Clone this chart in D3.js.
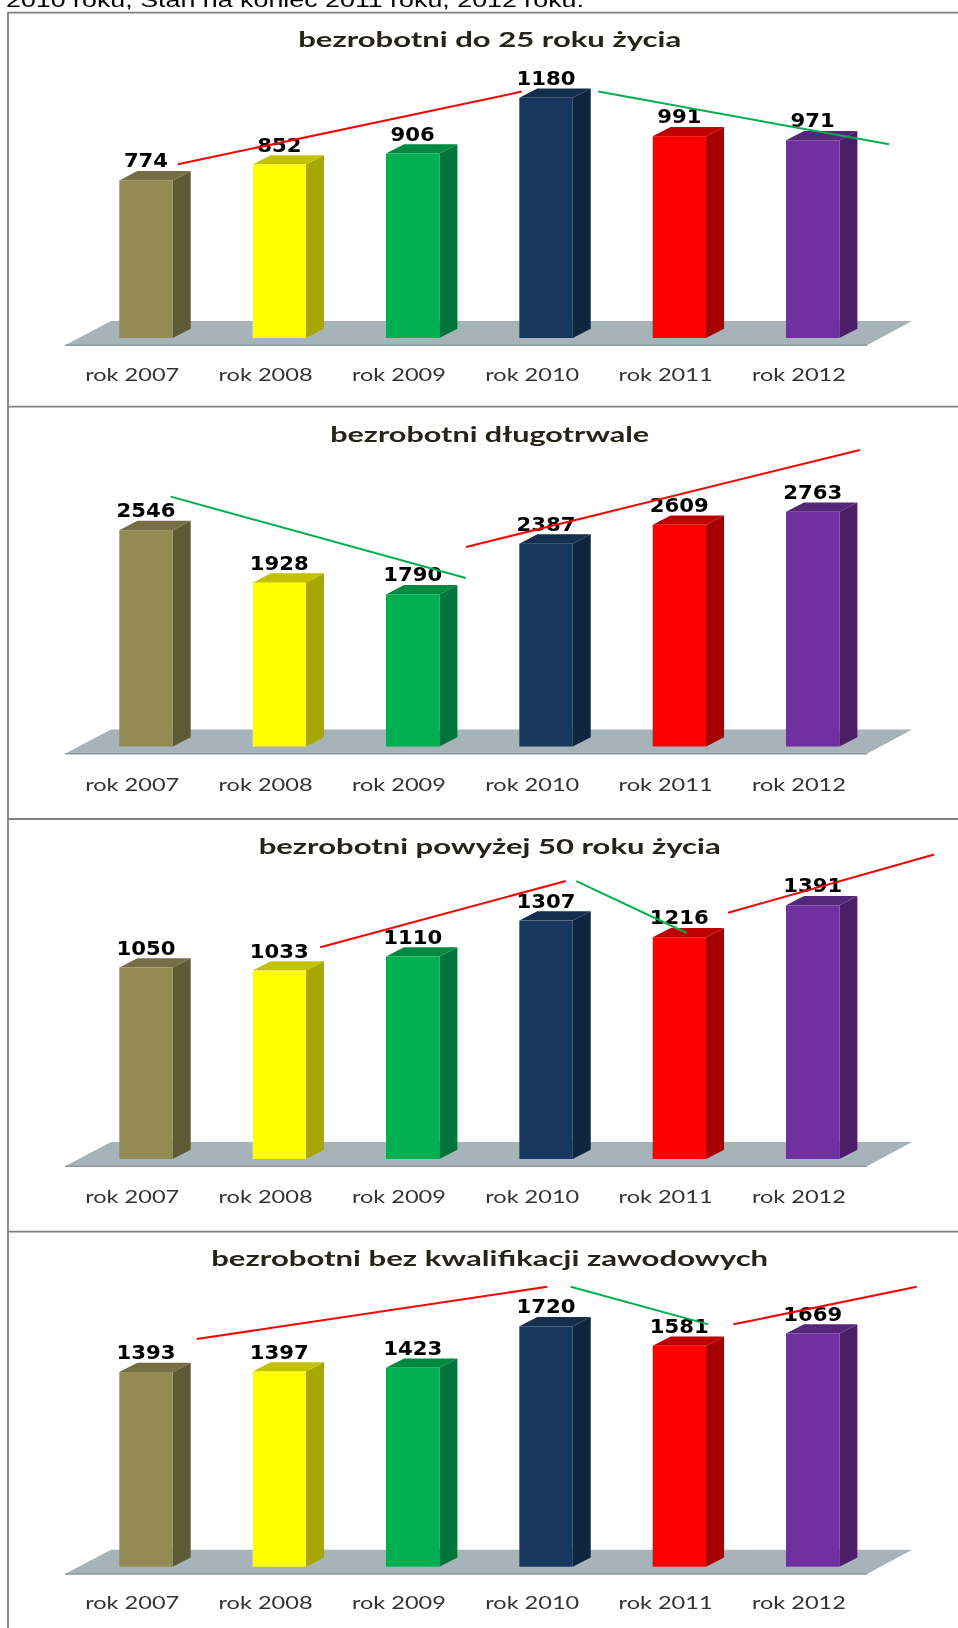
<!DOCTYPE html>
<html lang="pl">
<head>
<meta charset="utf-8">
<title>bezrobotni</title>
<script src="https://cdn.jsdelivr.net/npm/d3@7"></script>
<style>
  html, body { margin: 0; padding: 0; background: #fff; overflow: hidden; }
  svg { display: block; filter: blur(0.35px); }
</style>
</head>
<body>
<script>
var categories = ["rok 2007", "rok 2008", "rok 2009", "rok 2010", "rok 2011", "rok 2012"];

var titles = [
  "bezrobotni do 25 roku życia",
  "bezrobotni długotrwale",
  "bezrobotni powyżej 50 roku życia",
  "bezrobotni bez kwalifikacji zawodowych"
];

var youngValues = [774, 852, 906, 1180, 991, 971];
var longTermValues = [2546, 1928, 1790, 2387, 2609, 2763];
var olderValues = [1050, 1033, 1110, 1307, 1216, 1391];
var unskilledValues = [1393, 1397, 1423, 1720, 1581, 1669];

// trend strokes: [category position, value] at each end
var youngTrends = [
  {kind: "up", ends: [[0.239, 853], [2.818, 1210]]},
  {kind: "down", ends: [[3.392, 1210], [5.573, 951]]}
];
var longTermTrends = [
  {kind: "down", ends: [[0.185, 2940], [2.398, 1983]]},
  {kind: "up", ends: [[2.40, 2348], [5.353, 3489]]}
];
var olderTrends = [
  {kind: "up", ends: [[1.307, 1161], [3.148, 1524]]},
  {kind: "down", ends: [[3.227, 1524], [4.055, 1239]]},
  {kind: "up", ends: [[4.365, 1350], [5.91, 1670]]}
];
var unskilledTrends = [
  {kind: "up", ends: [[0.38, 1629], [3.008, 2003]]},
  {kind: "down", ends: [[3.185, 2003], [4.217, 1734]]},
  {kind: "up", ends: [[4.405, 1734], [5.78, 2003]]}
];

var frontColors = ["#948a54", "#ffff00", "#00b050", "#17375e", "#ff0000", "#7030a0"];
var sideColors = ["#5f5a36", "#a8a600", "#00743a", "#10253f", "#a50000", "#4a1f68"];
var topColors = ["#766e44", "#c4c200", "#008a40", "#142e4e", "#c00000", "#562678"];
var trendColors = {up: "#ff0000", down: "#00b050"};

var width = 958;
var height = 1628;
var barWidth = 53.4;
var depthX = 18;
var depthY = 9.3;

var panels = [
  {title: titles[0], values: youngValues, trends: youngTrends, top: 12.7, base: 338, maxHeight: 240.3, titleY: 46.5, titleWidth: 383, labelY: 380.5},
  {title: titles[1], values: longTermValues, trends: longTermTrends, top: 406.7, base: 746.5, maxHeight: 234.8, titleY: 441.7, titleWidth: 319, labelY: 790.8},
  {title: titles[2], values: olderValues, trends: olderTrends, top: 819, base: 1159, maxHeight: 253.7, titleY: 854, titleWidth: 462, labelY: 1203},
  {title: titles[3], values: unskilledValues, trends: unskilledTrends, top: 1231.7, base: 1566.7, maxHeight: 240.4, titleY: 1266.3, titleWidth: 557, labelY: 1609}
];

var svg = d3.select("body").append("svg")
            .attr("width", width)
            .attr("height", height);

svg.append("text")
   .attr("x", 6)
   .attr("y", 6.5)
   .attr("font-family", "'Liberation Sans', Arial, sans-serif")
   .attr("font-size", 21)
   .attr("fill", "#000")
   .attr("textLength", 578)
   .attr("lengthAdjust", "spacingAndGlyphs")
   .text("2010 roku, Stan na koniec 2011 roku, 2012 roku.");

// shared category position scale, fractional positions are used for trends
var x = d3.scaleLinear().domain([0, categories.length - 1]).range([146, 812.7]);
var line = d3.line();

panels.forEach(function(panel) {
  var y = d3.scaleLinear()
            .domain([0, d3.max(panel.values)])
            .range([panel.base, panel.base - panel.maxHeight]);

  var g = svg.append("g");

  g.append("line")
   .attr("x1", 8).attr("x2", width)
   .attr("y1", panel.top).attr("y2", panel.top)
   .attr("stroke", "#808080")
   .attr("stroke-width", 1.8);

  g.append("text")
   .attr("x", 489.7)
   .attr("y", panel.titleY)
   .attr("text-anchor", "middle")
   .attr("font-family", "Lato, sans-serif")
   .attr("font-weight", 700)
   .attr("font-size", 20)
   .attr("fill", "#26241a")
   .attr("textLength", panel.titleWidth)
   .attr("lengthAdjust", "spacingAndGlyphs")
   .text(panel.title);

  // floor
  g.append("polygon")
   .attr("points", [
     [65, panel.base + 7.3], [111, panel.base - 17],
     [912, panel.base - 17], [867, panel.base + 7.3]
   ].join(" "))
   .attr("fill", "#a6b4b9");
  g.append("line")
   .attr("x1", 65).attr("x2", 867)
   .attr("y1", panel.base + 7.3).attr("y2", panel.base + 7.3)
   .attr("stroke", "#8b989c")
   .attr("stroke-width", 1.5);

  var bars = g.selectAll("g.bar")
              .data(panel.values)
              .enter().append("g")
              .attr("class", "bar");

  bars.append("polygon")
      .attr("points", function(d, i) {
        var right = x(i) + barWidth / 2;
        return [[right, y(d)], [right + depthX, y(d) - depthY],
                [right + depthX, y(0) - depthY], [right, y(0)]].join(" ");
      })
      .attr("fill", function(d, i) { return sideColors[i]; });

  bars.append("polygon")
      .attr("points", function(d, i) {
        var left = x(i) - barWidth / 2;
        var right = x(i) + barWidth / 2;
        return [[left, y(d)], [left + depthX, y(d) - depthY],
                [right + depthX, y(d) - depthY], [right, y(d)]].join(" ");
      })
      .attr("fill", function(d, i) { return topColors[i]; });

  bars.append("rect")
      .attr("x", function(d, i) { return x(i) - barWidth / 2; })
      .attr("y", function(d) { return y(d); })
      .attr("width", barWidth)
      .attr("height", function(d) { return y(0) - y(d); })
      .attr("fill", function(d, i) { return frontColors[i]; });

  bars.append("text")
      .attr("x", function(d, i) { return x(i); })
      .attr("y", function(d) { return y(d) - depthY - 3.6; })
      .attr("text-anchor", "middle")
      .attr("font-family", "'DejaVu Sans', sans-serif")
      .attr("font-weight", 700)
      .attr("font-size", 19)
      .attr("fill", "#000")
      .attr("textLength", function(d) { return String(d).length * 14.75; })
      .attr("lengthAdjust", "spacingAndGlyphs")
      .text(function(d) { return d; });

  g.selectAll("path.trend")
   .data(panel.trends)
   .enter().append("path")
   .attr("class", "trend")
   .attr("d", function(d) {
     return line(d.ends.map(function(e) { return [x(e[0]), y(e[1])]; }));
   })
   .attr("fill", "none")
   .attr("stroke", function(d) { return trendColors[d.kind]; })
   .attr("stroke-width", 2);

  var axis = d3.axisBottom(x)
               .tickValues(d3.range(categories.length))
               .tickFormat(function(i) { return categories[i]; })
               .tickSize(0);

  var axisG = g.append("g")
               .attr("transform", "translate(-14.3," + panel.labelY + ")")
               .call(axis);
  axisG.select(".domain").remove();
  axisG.selectAll("text")
       .attr("y", 0)
       .attr("dy", 0)
       .attr("font-family", "Lato, sans-serif")
       .attr("font-size", 18)
       .attr("fill", "#333")
       .attr("textLength", 94)
       .attr("lengthAdjust", "spacingAndGlyphs");
});

svg.append("line")
   .attr("x1", 8).attr("x2", 8)
   .attr("y1", 12).attr("y2", height)
   .attr("stroke", "#808080")
   .attr("stroke-width", 1.8);
</script>
</body>
</html>
